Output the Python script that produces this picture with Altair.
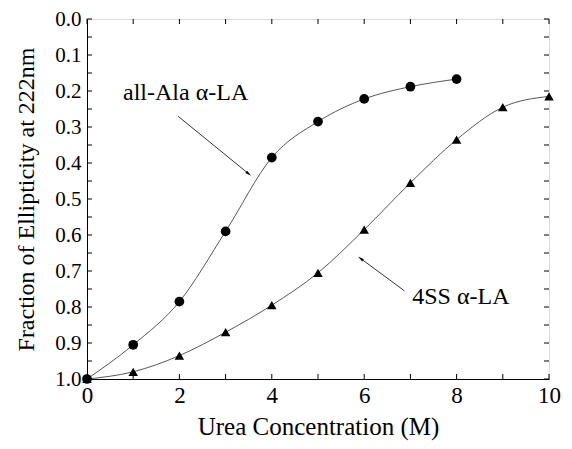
import math
import altair as alt
import pandas as pd

# --- data ---
urea_ala = [0, 1, 2, 3, 4, 5, 6, 7, 8]
frac_ala = [1.0, 0.905, 0.785, 0.59, 0.385, 0.285, 0.222, 0.188, 0.167]
urea_4ss = [0, 1, 2, 3, 4, 5, 6, 7, 8, 9, 10]
frac_4ss = [1.0, 0.98, 0.935, 0.87, 0.795, 0.705, 0.585, 0.455, 0.335, 0.245, 0.215]

y_ticks = [round(i * 0.05, 2) for i in range(21)]
x_ticks = list(range(11))
y_labels = [round(i * 0.1, 1) for i in range(11)]
x_labels = [0, 2, 4, 6, 8, 10]

label_text = ["all-Ala \u03b1-LA", "4SS \u03b1-LA"]
label_x = [0.78, 7.04]
label_y = [0.205, 0.772]
arrow_x = [1.97, 6.87]
arrow_y = [0.27, 0.755]
arrow_x2 = [3.5, 5.92]
arrow_y2 = [0.43, 0.665]

W, H = 462, 360
FONT = "Liberation Serif"

df_ala = pd.DataFrame({"x": urea_ala, "y": frac_ala})
df_4ss = pd.DataFrame({"x": urea_4ss, "y": frac_4ss})

xs = alt.Scale(domain=[0, 10], nice=False)
ys = alt.Scale(domain=[0, 1], reverse=True, nice=False)

x_axis = alt.Axis(values=x_labels, ticks=False, grid=False,
                  labelFont=FONT, labelFontSize=23, labelColor="black", labelPadding=5,
                  labelOverlap=False, labelFlush=False,
                  title="Urea Concentration (M)", titleFont=FONT, titleFontSize=25,
                  titleFontWeight="normal", titleColor="black", titlePadding=7,
                  domainColor="black")
y_axis = alt.Axis(values=y_labels, format=".1f",
                  ticks=False, grid=False, labelFont=FONT, labelFontSize=21, labelColor="black",
                  labelPadding=6, labelOverlap=False, labelFlush=False,
                  title="Fraction of Ellipticity at 222nm",
                  titleFont=FONT, titleFontSize=24, titleFontWeight="normal", titleColor="black",
                  titlePadding=16, domainColor="black")


def xq(f):
    return alt.X(f, scale=xs, axis=x_axis)


def yq(f):
    return alt.Y(f, scale=ys, axis=y_axis)


line_ala = alt.Chart(df_ala).mark_line(interpolate="monotone", color="#444", strokeWidth=0.9).encode(x=xq("x:Q"), y=yq("y:Q"))
pts_ala = alt.Chart(df_ala).mark_point(shape="circle", filled=True, color="black", opacity=1, size=95).encode(x=xq("x:Q"), y=yq("y:Q"))
line_4ss = alt.Chart(df_4ss).mark_line(interpolate="monotone", color="#444", strokeWidth=0.9).encode(x=xq("x:Q"), y=yq("y:Q"))
pts_4ss = alt.Chart(df_4ss).mark_point(shape="triangle-up", filled=True, color="black", opacity=1, size=90).encode(x=xq("x:Q"), y=yq("y:Q"))

# inward ticks
dfy = pd.DataFrame({"y": y_ticks})
dfx = pd.DataFrame({"x": x_ticks})
tl = alt.Chart(dfy).mark_rule(color="black", strokeWidth=1).encode(y=yq("y:Q"), x=alt.value(0), x2=alt.value(5))
tr = alt.Chart(dfy).mark_rule(color="black", strokeWidth=1).encode(y=yq("y:Q"), x=alt.value(W - 5), x2=alt.value(W))
tb = alt.Chart(dfx).mark_rule(color="black", strokeWidth=1).encode(x=xq("x:Q"), y=alt.value(H - 5), y2=alt.value(H))
tt = alt.Chart(dfx).mark_rule(color="black", strokeWidth=1).encode(x=xq("x:Q"), y=alt.value(0), y2=alt.value(5))

# annotations
ang = []
for i in range(2):
    dx = (arrow_x2[i] - arrow_x[i]) * W / 10
    dy = (arrow_y2[i] - arrow_y[i]) * H
    ang.append((math.degrees(math.atan2(dx, -dy))) % 360)
df_lab = pd.DataFrame({"x": label_x, "y": label_y, "t": label_text})
df_arr = pd.DataFrame({"x": arrow_x, "y": arrow_y, "xe": arrow_x2, "ye": arrow_y2, "a": ang})

labels = alt.Chart(df_lab).mark_text(font=FONT, fontSize=24, align="left", baseline="middle", color="black").encode(
    x=xq("x:Q"), y=yq("y:Q"), text="t:N")
arr = alt.Chart(df_arr).mark_rule(color="black", strokeWidth=0.8).encode(
    x=xq("x:Q"), y=yq("y:Q"), x2="xe:Q", y2="ye:Q")
heads = alt.Chart(df_arr).transform_calculate(x="datum.xe", y="datum.ye").mark_point(
    shape="M0,-1L0.45,1L-0.45,1Z", filled=True, color="black", opacity=1, size=40).encode(
    x=xq("x:Q"), y=yq("y:Q"), angle=alt.Angle("a:Q", scale=None))

chart = alt.layer(line_ala, line_4ss, tl, tr, tb, tt, arr, heads, pts_ala, pts_4ss, labels).properties(
    width=W, height=H, autosize="none",
    padding={"left": 79, "top": 11, "right": 14, "bottom": 62},
).configure_view(stroke="black", strokeWidth=1).configure_axis(
    labelFont=FONT, titleFont=FONT
).configure_text(font=FONT).configure(background="white", font=FONT)

chart.save("out.html", embed_options={"renderer": "svg", "actions": False})
